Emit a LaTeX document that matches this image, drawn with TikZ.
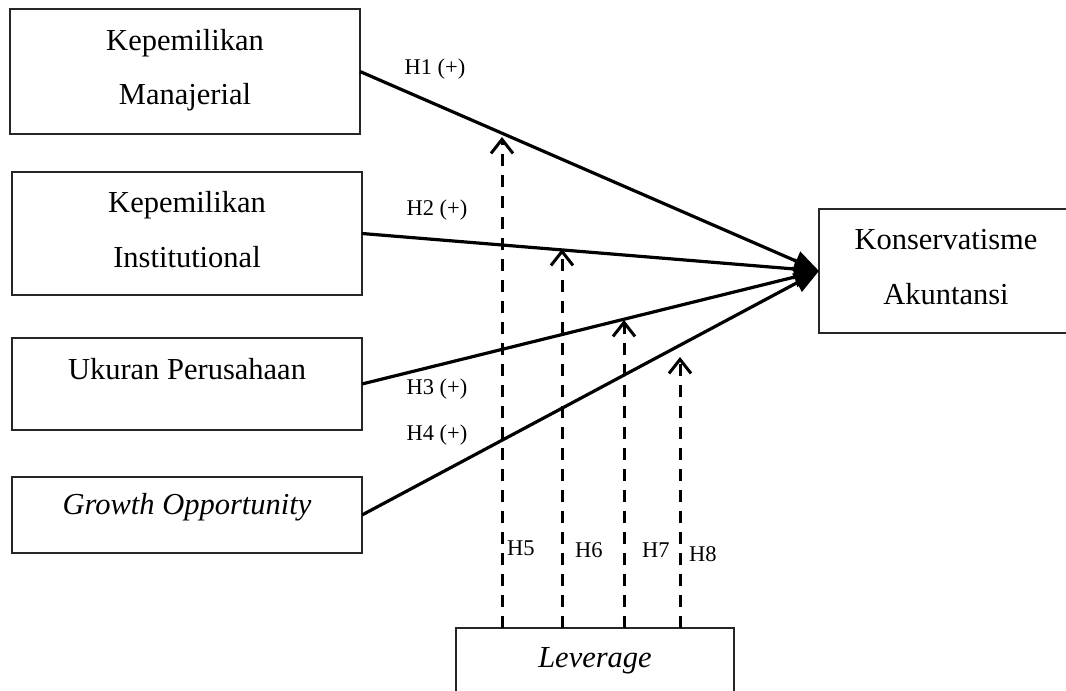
\documentclass[tikz,border=0pt]{standalone}
\usepackage{fontspec}
\setmainfont{Liberation Serif}
\usetikzlibrary{arrows.meta}
\tikzset{
  boxnode/.style={draw=black!85, line width=1.8pt, rectangle, inner sep=0pt, outer sep=0pt},
  bigtext/.style={font=\fontsize{30.5}{54}\selectfont, anchor=base, inner sep=0pt},
  smalltext/.style={font=\fontsize{22.5}{26}\selectfont, anchor=base, inner sep=0pt},
  mainarrow/.style={line width=3.2pt, -{Triangle[length=25pt,width=20pt]}},
  modarrow/.style={line width=3pt, dash pattern=on 12pt off 9pt, -{Straight Barb[length=14pt,width=22pt,line width=3pt]}}
}
\begin{document}
\begin{tikzpicture}[x=1pt,y=-1pt]
\useasboundingbox (0,0) rectangle (1066,691);
% boxes
\node[boxnode, minimum width=350pt, minimum height=125pt] (b1) at (185,71.5) {};
\node[boxnode, minimum width=350pt, minimum height=123pt] (b2) at (187,233.5) {};
\node[boxnode, minimum width=350pt, minimum height=92pt] (b3) at (187,384) {};
\node[boxnode, minimum width=350pt, minimum height=76pt] (b4) at (187,515) {};
\node[boxnode, minimum width=254pt, minimum height=124pt] (k) at (946,271) {};
\node[boxnode, minimum width=278pt, minimum height=92pt] (lev) at (595,674) {};
% box texts
\node[bigtext] (t1a) at (185,50) {Kepemilikan};
\node[bigtext] (t1b) at (185,104) {Manajerial};
\node[bigtext] (t2a) at (187,212) {Kepemilikan};
\node[bigtext] (t2b) at (187,267) {Institutional};
\node[bigtext] (t3) at (187,379) {Ukuran Perusahaan};
\node[bigtext] (t4) at (187,514) {\itshape Growth Opportunity};
\node[bigtext] (tka) at (946,249) {Konservatisme};
\node[bigtext] (tkb) at (946,304) {Akuntansi};
\node[bigtext] (tl) at (595,667) {\itshape Leverage};
% main arrows
\draw[mainarrow] (b1.east) -- (k.west);
\draw[mainarrow] (b2.east) -- (k.west);
\draw[mainarrow] (b3.east) -- (k.west);
\draw[mainarrow] (b4.east) -- (k.west);
% hypothesis labels
\node[smalltext] (h1) at (435,74) {H1 (+)};
\node[smalltext] (h2) at (437,215) {H2 (+)};
\node[smalltext] (h3) at (437,394) {H3 (+)};
\node[smalltext] (h4) at (437,440) {H4 (+)};
% moderation arrows
\coordinate (s5) at (502,628); \coordinate (e5) at (502,137);
\coordinate (s6) at (562,628); \coordinate (e6) at (562,249);
\coordinate (s7) at (624,628); \coordinate (e7) at (624,320);
\coordinate (s8) at (680,628); \coordinate (e8) at (680,357);
\draw[modarrow] (s5) -- (e5);
\draw[modarrow] (s6) -- (e6);
\draw[modarrow] (s7) -- (e7);
\draw[modarrow] (s8) -- (e8);
\node[smalltext, anchor=base west] (h5) at (507,555) {H5};
\node[smalltext, anchor=base west] (h6) at (575,557) {H6};
\node[smalltext, anchor=base west] (h7) at (642,557) {H7};
\node[smalltext, anchor=base west] (h8) at (689,561) {H8};
\end{tikzpicture}
\end{document}
